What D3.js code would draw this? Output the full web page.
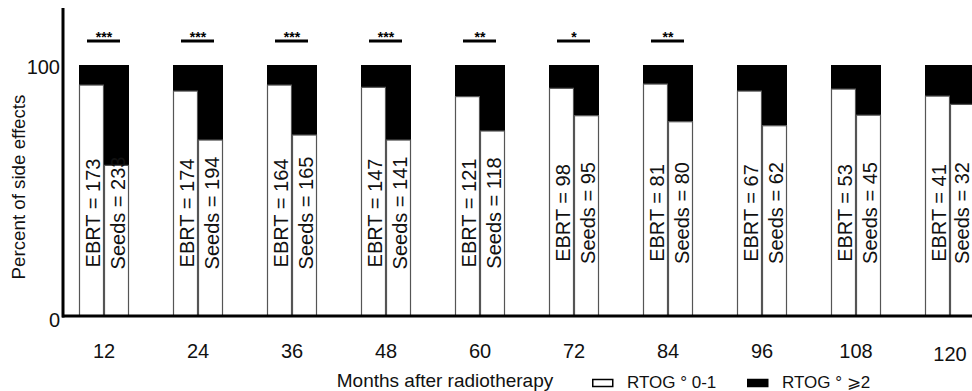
<!DOCTYPE html>
<html>
<head>
<meta charset="utf-8">
<script src="https://cdn.jsdelivr.net/npm/d3@7/dist/d3.min.js"></script>
<style>
  body { margin: 0; background: #fff; }
  svg { display: block; font-family: "Liberation Sans", Arial, sans-serif; }
</style>
</head>
<body>
<script>
// months after radiotherapy
var months = [12, 24, 36, 48, 60, 72, 84, 96, 108, 120];
// percent with RTOG grade 0-1
var ebrtLow  = [92, 89.6, 92, 91.1, 87.4, 90.7, 92.4, 89.6, 90.4, 87.6];
var seedsLow = [60, 70.1, 72.1, 70.1, 73.7, 79.8, 77.4, 75.8, 80, 84.3];
// patients per group
var ebrtN  = [173, 174, 164, 147, 121, 98, 81, 67, 53, 41];
var seedsN = [233, 194, 165, 141, 118, 95, 80, 62, 45, 32];
// significance marks
var signif = ["***", "***", "***", "***", "**", "*", "**", "", "", ""];
var yTicks = [0, 100];

var width = 972, height = 391;

var svg = d3.select("body").append("svg")
    .attr("width", width)
    .attr("height", height);

var x = d3.scaleLinear().domain([12, 120]).range([104, 950]);
var y = d3.scaleLinear().domain([0, 100]).range([316, 65]);
var sub = d3.scaleBand().domain(["EBRT", "Seeds"]).range([-25, 25]);

// one row per bar
var bars = [];
months.forEach(function(m, i) {
  bars.push({ month: m, group: "EBRT", low: ebrtLow[i], n: ebrtN[i] });
  bars.push({ month: m, group: "Seeds", low: seedsLow[i], n: seedsN[i] });
});

var barG = svg.append("g").attr("class", "bars")
  .selectAll("g")
  .data(bars)
  .enter().append("g")
    .attr("transform", function(d) { return "translate(" + (x(d.month) + sub(d.group)) + ",0)" });

// RTOG >= 2 part (top, black)
barG.append("rect")
    .attr("x", 0)
    .attr("y", y(100))
    .attr("width", sub.bandwidth())
    .attr("height", function(d) { return y(d.low) - y(100) })
    .style("fill", "#000");

// RTOG 0-1 part (bottom, white)
barG.append("rect")
    .attr("x", 0.5)
    .attr("y", function(d) { return y(d.low) })
    .attr("width", sub.bandwidth() - 1)
    .attr("height", function(d) { return y(0) - y(d.low) })
    .style("fill", "#fff")
    .style("stroke", "#555")
    .style("stroke-width", 1.2);

// n labels
barG.append("text")
    .attr("transform", function(d) {
      var bx = d.month == 120 && d.group == "Seeds" ? sub.bandwidth() - 6 : sub.bandwidth() - 4
      return "translate(" + bx + ",213) rotate(-90)"
    })
    .style("text-anchor", "middle")
    .style("font-size", "20px")
    .style("fill", "#111")
    .text(function(d) { return d.group + " = " + d.n });

// significance bars
var sigG = svg.append("g").attr("class", "signif")
  .selectAll("g")
  .data(months.map(function(m, i) { return { month: m, s: signif[i] } }).filter(function(d) { return d.s }))
  .enter().append("g");

sigG.append("line")
    .attr("x1", function(d) { return x(d.month) - 17 })
    .attr("x2", function(d) { return x(d.month) + 16 })
    .attr("y1", 41)
    .attr("y2", 41)
    .style("stroke", "#000")
    .style("stroke-width", 3);

sigG.append("text")
    .attr("x", function(d) { return x(d.month) })
    .attr("y", 42)
    .style("text-anchor", "middle")
    .style("font-size", "14px")
    .style("font-weight", "bold")
    .text(function(d) { return d.s });

// axes
svg.append("line")
    .attr("x1", 63).attr("x2", 63)
    .attr("y1", 8).attr("y2", y(0) + 1.5)
    .style("stroke", "#000")
    .style("stroke-width", 3);

svg.append("line")
    .attr("x1", 62).attr("x2", width)
    .attr("y1", y(0)).attr("y2", y(0))
    .style("stroke", "#000")
    .style("stroke-width", 3);

svg.append("g").selectAll("text")
  .data(yTicks)
  .enter().append("text")
    .attr("x", 60)
    .attr("y", function(d) { return y(d) + (d == 0 ? 11 : 9) })
    .style("text-anchor", "end")
    .style("font-size", "20px")
    .style("fill", "#111")
    .text(function(d) { return d });

svg.append("g").selectAll("text")
  .data(months)
  .enter().append("text")
    .attr("x", function(d) { return x(d) })
    .attr("y", function(d) { return d == 120 ? 361 : 358 })
    .style("text-anchor", "middle")
    .style("font-size", "20px")
    .style("fill", "#111")
    .text(function(d) { return d });

svg.append("text")
    .attr("transform", "translate(25,187) rotate(-90) scale(1.04,1)")
    .style("text-anchor", "middle")
    .style("font-size", "18px")
    .style("fill", "#111")
    .text("Percent of side effects");

svg.append("text")
    .attr("x", 445)
    .attr("y", 387)
    .style("text-anchor", "middle")
    .style("font-size", "19px")
    .style("fill", "#111")
    .text("Months after radiotherapy");

// legend
var legend = [
  { label: "RTOG \u00b0 0-1", fill: "#fff", x: 592 },
  { label: "RTOG \u00b0 \u2a7e2", fill: "#000", x: 747 }
];
var legG = svg.append("g").selectAll("g")
  .data(legend)
  .enter().append("g");

legG.append("rect")
    .attr("x", function(d) { return d.x + 0.75 })
    .attr("y", 379.5)
    .attr("width", 20)
    .attr("height", 7)
    .style("fill", function(d) { return d.fill })
    .style("stroke", "#000")
    .style("stroke-width", 1.5);

legG.append("text")
    .attr("x", function(d) { return d.x + 35 })
    .attr("y", 388)
    .style("font-size", "17px")
    .style("fill", "#111")
    .text(function(d) { return d.label });
</script>
</body>
</html>
